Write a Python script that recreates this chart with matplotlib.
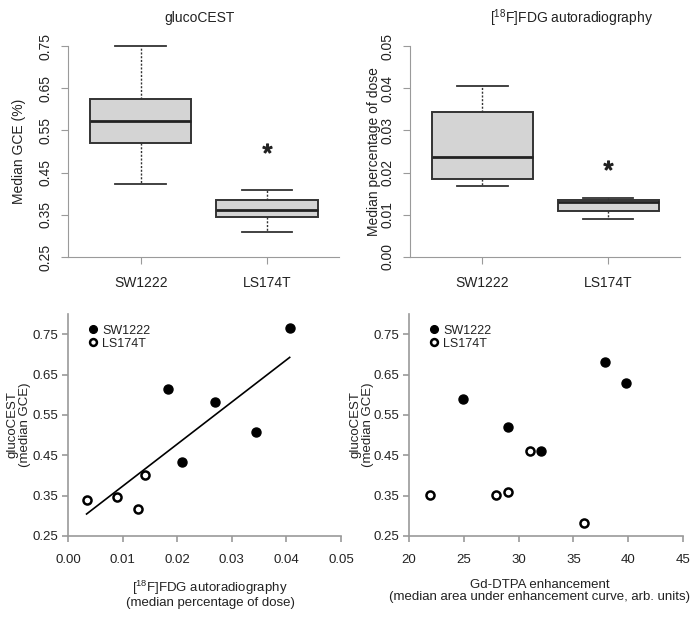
import numpy as np
import matplotlib
matplotlib.use('Agg')
import matplotlib.pyplot as plt

plt.rcParams['font.family'] = ['Liberation Sans', 'DejaVu Sans']
plt.rcParams['mathtext.fontset'] = 'custom'
plt.rcParams['mathtext.rm'] = 'Liberation Sans'
plt.rcParams['mathtext.it'] = 'Liberation Sans'
plt.rcParams['mathtext.default'] = 'regular'

# boxplot data
cell_lines = ['SW1222', 'LS174T']
gce_whislo = [0.423, 0.309]
gce_q1 = [0.520, 0.345]
gce_med = [0.5715, 0.361]
gce_q3 = [0.624, 0.384]
gce_whishi = [0.750, 0.408]
gce_star = 0.508

fdg_whislo = [0.0169, 0.0091]
fdg_q1 = [0.0184, 0.0110]
fdg_med = [0.0238, 0.0130]
fdg_q3 = [0.0343, 0.0134]
fdg_whishi = [0.0405, 0.0140]
fdg_star = 0.0217

# scatter data
sw_fdg = [0.0406, 0.0184, 0.0269, 0.0345, 0.0209]
sw_gce_a = [0.765, 0.613, 0.583, 0.508, 0.433]
ls_fdg = [0.0034, 0.0090, 0.0129, 0.0141]
ls_gce_a = [0.338, 0.346, 0.318, 0.402]

sw_gd = [37.85, 39.8, 24.95, 29.0, 32.0]
sw_gce_b = [0.680, 0.630, 0.590, 0.520, 0.460]
ls_gd = [31.0, 21.9, 27.9, 29.0, 36.0]
ls_gce_b = [0.460, 0.351, 0.351, 0.360, 0.281]

W, H = 700, 622
fig = plt.figure(figsize=(7, 6.22), dpi=100)


def px_axes(x0, x1, ytop, ybot):
    return fig.add_axes([x0 / W, 1 - ybot / H, (x1 - x0) / W, (ybot - ytop) / H])


spine_c = '#9a9a9a'
txt_c = '#222222'


def box_panel(ax, whislo, q1, med, q3, whishi, star, ylim, yticks, fmt, ylabel, lab_x):
    stats = []
    for i in range(len(cell_lines)):
        stats.append(dict(label=cell_lines[i], whislo=whislo[i], q1=q1[i], med=med[i],
                          q3=q3[i], whishi=whishi[i], fliers=[]))
    art = ax.bxp(stats, positions=[1, 2], widths=0.8, patch_artist=True,
                 boxprops=dict(facecolor='#d4d4d4', edgecolor='#333333', linewidth=1.4),
                 medianprops=dict(color='#222222', linewidth=2),
                 whiskerprops=dict(color='#333333', linewidth=1, linestyle=(0, (1.5, 1.2))),
                 capprops=dict(color='#333333', linewidth=1.3),
                 capwidths=0.4)
    for k in art:
        for a in art[k]:
            a.set_clip_on(False)
    ax.plot(2, star, marker='$*$', color='#222222', markersize=6.5, linestyle='none')
    ax.set_xlim(0.425, 2.57)
    ax.set_ylim(*ylim)
    ax.set_yticks(yticks)
    ax.set_yticklabels([fmt.format(v) for v in yticks], rotation=90, va='center',
                       fontsize=10, color=txt_c)
    ax.set_xticks([1, 2])
    ax.set_xticklabels(cell_lines, fontsize=10, color=txt_c)
    for s in ['top', 'right']:
        ax.spines[s].set_visible(False)
    for s in ['left', 'bottom']:
        ax.spines[s].set_color(spine_c)
    ax.tick_params(axis='y', colors=spine_c, length=5, pad=6, labelcolor=txt_c)
    ax.tick_params(axis='x', colors=spine_c, length=5, pad=9, labelcolor=txt_c)
    ax.set_ylabel(ylabel, fontsize=10, color=txt_c)
    ax.yaxis.set_label_coords(lab_x, 0.5)


ax1 = px_axes(68, 339, 46, 257)
box_panel(ax1, gce_whislo, gce_q1, gce_med, gce_q3, gce_whishi, gce_star,
          (0.25, 0.75), [0.25, 0.35, 0.45, 0.55, 0.65, 0.75], '{:.2f}',
          'Median GCE (%)', -0.155)
fig.text(200 / W, 1 - 18 / H, 'glucoCEST', ha='center', va='center', fontsize=10, color=txt_c)

ax2 = px_axes(410, 680, 46, 257)
box_panel(ax2, fdg_whislo, fdg_q1, fdg_med, fdg_q3, fdg_whishi, fdg_star,
          (0.0, 0.05), [0.0, 0.01, 0.02, 0.03, 0.04, 0.05], '{:.2f}',
          'Median percentage of dose', -0.107)
fig.text(571 / W, 1 - 18 / H, '[$^{18}$F]FDG autoradiography', ha='center', va='center',
         fontsize=10, color=txt_c)


def scatter_panel(ax, sx, sy, lx, ly, xlim, xticks, xfmt, xlabel, xlab_x, ylab_x):
    ax.plot(sx, sy, 'o', color='black', markersize=6.5, linestyle='none', label='SW1222',
            clip_on=False)
    ax.plot(lx, ly, 'o', markerfacecolor='white', markeredgecolor='black', markeredgewidth=1.8,
            markersize=5.8, linestyle='none', label='LS174T', clip_on=False)
    ax.set_xlim(*xlim)
    ax.set_ylim(0.25, 0.80)
    ax.set_xticks(xticks)
    ax.set_xticklabels([xfmt.format(v) for v in xticks], fontsize=9.5, color=txt_c)
    yt = [0.25, 0.35, 0.45, 0.55, 0.65, 0.75]
    ax.set_yticks(yt)
    ax.set_yticklabels(['{:.2f}'.format(v) for v in yt], fontsize=9.5, color=txt_c)
    for s in ['top', 'right']:
        ax.spines[s].set_visible(False)
    for s in ['left', 'bottom']:
        ax.spines[s].set_color(spine_c)
        ax.spines[s].set_linewidth(1.2)
    ax.tick_params(axis='both', colors=spine_c, length=4, width=1.2, labelcolor=txt_c)
    ax.tick_params(axis='x', pad=9)
    ax.tick_params(axis='y', pad=3)
    ax.set_ylabel('glucoCEST\n(median GCE)', fontsize=9.5, color=txt_c, linespacing=1.05)
    ax.yaxis.set_label_coords(ylab_x, 0.5)
    ax.set_xlabel(xlabel, fontsize=9.5, color=txt_c, linespacing=1.0)
    ax.xaxis.set_label_coords(xlab_x, -0.194)
    leg = ax.legend(loc='upper left', bbox_to_anchor=(0.045, 0.975), frameon=False, fontsize=9,
                    handletextpad=0.15, borderaxespad=0, labelspacing=0.1, markerscale=0.85,
                    handlelength=1.2)
    for t in leg.get_texts():
        t.set_color(txt_c)


ax3 = px_axes(68, 341, 314, 536)
scatter_panel(ax3, sw_fdg, sw_gce_a, ls_fdg, ls_gce_a, (0, 0.05),
              [0.0, 0.01, 0.02, 0.03, 0.04, 0.05], '{:.2f}',
              '[$^{18}$F]FDG autoradiography\n(median percentage of dose)', 0.52, -0.135)
# regression line through all points
all_x = np.array(sw_fdg + ls_fdg)
all_y = np.array(sw_gce_a + ls_gce_a)
slope, icpt = np.polyfit(all_x, all_y, 1)
xl = np.array([all_x.min(), all_x.max()])
ax3.plot(xl, slope * xl + icpt, color='black', linewidth=1.2)

ax4 = px_axes(409, 683, 314, 536)
scatter_panel(ax4, sw_gd, sw_gce_b, ls_gd, ls_gce_b, (20, 45),
              [20, 25, 30, 35, 40, 45], '{:d}',
              'Gd-DTPA enhancement\n(median area under enhancement curve, arb. units)', 0.478,
              -0.128)

fig.savefig('out.png', dpi=100)
